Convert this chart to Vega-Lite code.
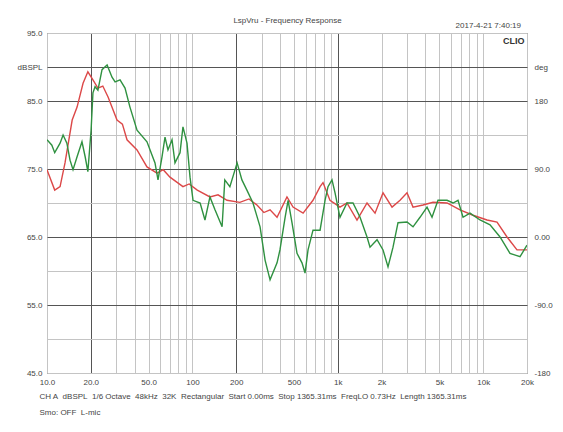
{
  "$schema": "https://vega.github.io/schema/vega-lite/v6.json",
  "width": 480,
  "height": 340,
  "autosize": {"type": "none"},
  "padding": {"left": 47, "top": 33, "right": 36, "bottom": 59},
  "background": "#ffffff",
  "config": {
    "view": {"stroke": "#555555", "strokeWidth": 1},
    "font": "Liberation Sans",
    "axis": {"labelFont": "Liberation Sans", "labelFontSize": 8, "labelColor": "#444444", "titleFont": "Liberation Sans", "titleFontSize": 8, "titleFontWeight": "normal", "titleColor": "#444444"}
  },
  "title": {"text": "2017-4-21 7:40:19", "anchor": "end", "frame": "group", "fontSize": 8, "fontWeight": "normal", "color": "#444444", "offset": 0, "dx": -6, "dy": 14},
  "data": {"values": [
    {"curve": "A", "f": 10, "db": 74.9}, {"curve": "A", "f": 11.3, "db": 71.9}, {"curve": "A", "f": 12.3, "db": 72.4}, {"curve": "A", "f": 13.3, "db": 75.9}, {"curve": "A", "f": 14.9, "db": 82.2}, {"curve": "A", "f": 16.1, "db": 84.1}, {"curve": "A", "f": 17.7, "db": 87.6}, {"curve": "A", "f": 19.1, "db": 89.3}, {"curve": "A", "f": 20.7, "db": 88.1}, {"curve": "A", "f": 22.4, "db": 86.9}, {"curve": "A", "f": 24.2, "db": 87.2}, {"curve": "A", "f": 26.3, "db": 85.6}, {"curve": "A", "f": 30.3, "db": 82.2}, {"curve": "A", "f": 33.0, "db": 81.6}, {"curve": "A", "f": 35.5, "db": 79.3}, {"curve": "A", "f": 41.6, "db": 77.8}, {"curve": "A", "f": 48.7, "db": 75.3}, {"curve": "A", "f": 57.1, "db": 74.4}, {"curve": "A", "f": 63.0, "db": 74.9}, {"curve": "A", "f": 70.1, "db": 73.8}, {"curve": "A", "f": 86.1, "db": 72.4}, {"curve": "A", "f": 95, "db": 72.8}, {"curve": "A", "f": 108, "db": 71.9}, {"curve": "A", "f": 132, "db": 70.9}, {"curve": "A", "f": 150, "db": 71.2}, {"curve": "A", "f": 173, "db": 70.4}, {"curve": "A", "f": 212, "db": 70.1}, {"curve": "A", "f": 245, "db": 70.6}, {"curve": "A", "f": 278, "db": 69.7}, {"curve": "A", "f": 310, "db": 68.6}, {"curve": "A", "f": 342, "db": 69.0}, {"curve": "A", "f": 382, "db": 67.9}, {"curve": "A", "f": 447, "db": 70.9}, {"curve": "A", "f": 492, "db": 69.4}, {"curve": "A", "f": 577, "db": 68.5}, {"curve": "A", "f": 675, "db": 70.4}, {"curve": "A", "f": 755, "db": 72.4}, {"curve": "A", "f": 791, "db": 73.0}, {"curve": "A", "f": 883, "db": 70.4}, {"curve": "A", "f": 1035, "db": 69.4}, {"curve": "A", "f": 1156, "db": 70.0}, {"curve": "A", "f": 1355, "db": 67.5}, {"curve": "A", "f": 1588, "db": 70.0}, {"curve": "A", "f": 1803, "db": 68.5}, {"curve": "A", "f": 2046, "db": 71.5}, {"curve": "A", "f": 2360, "db": 69.4}, {"curve": "A", "f": 2679, "db": 70.4}, {"curve": "A", "f": 2992, "db": 71.5}, {"curve": "A", "f": 3290, "db": 69.4}, {"curve": "A", "f": 3854, "db": 69.7}, {"curve": "A", "f": 4515, "db": 70.1}, {"curve": "A", "f": 5637, "db": 70.0}, {"curve": "A", "f": 6925, "db": 69.0}, {"curve": "A", "f": 8505, "db": 68.2}, {"curve": "A", "f": 10620, "db": 67.5}, {"curve": "A", "f": 12440, "db": 67.2}, {"curve": "A", "f": 14580, "db": 65.0}, {"curve": "A", "f": 17070, "db": 63.1}, {"curve": "A", "f": 20000, "db": 63.1},
    {"curve": "B", "f": 10, "db": 79.3}, {"curve": "B", "f": 10.8, "db": 78.5}, {"curve": "B", "f": 11.3, "db": 77.4}, {"curve": "B", "f": 12.3, "db": 78.8}, {"curve": "B", "f": 12.9, "db": 80.0}, {"curve": "B", "f": 13.7, "db": 78.8}, {"curve": "B", "f": 14.4, "db": 76.3}, {"curve": "B", "f": 15.1, "db": 74.9}, {"curve": "B", "f": 16.1, "db": 76.8}, {"curve": "B", "f": 17.4, "db": 79.0}, {"curve": "B", "f": 18.3, "db": 76.8}, {"curve": "B", "f": 19.1, "db": 74.6}, {"curve": "B", "f": 20.1, "db": 80.7}, {"curve": "B", "f": 20.7, "db": 86.2}, {"curve": "B", "f": 21.4, "db": 87.1}, {"curve": "B", "f": 22.4, "db": 86.6}, {"curve": "B", "f": 23.9, "db": 89.6}, {"curve": "B", "f": 25.9, "db": 90.3}, {"curve": "B", "f": 28.0, "db": 88.5}, {"curve": "B", "f": 29.4, "db": 87.8}, {"curve": "B", "f": 31.8, "db": 88.1}, {"curve": "B", "f": 34.4, "db": 86.9}, {"curve": "B", "f": 37.2, "db": 84.1}, {"curve": "B", "f": 41.6, "db": 80.7}, {"curve": "B", "f": 48.7, "db": 79.0}, {"curve": "B", "f": 55.3, "db": 75.9}, {"curve": "B", "f": 58.0, "db": 73.4}, {"curve": "B", "f": 61.8, "db": 76.8}, {"curve": "B", "f": 64.8, "db": 79.7}, {"curve": "B", "f": 67.9, "db": 77.8}, {"curve": "B", "f": 72.4, "db": 79.3}, {"curve": "B", "f": 75.9, "db": 75.9}, {"curve": "B", "f": 82.2, "db": 77.4}, {"curve": "B", "f": 86.1, "db": 81.2}, {"curve": "B", "f": 91.8, "db": 78.8}, {"curve": "B", "f": 96.3, "db": 73.8}, {"curve": "B", "f": 101, "db": 70.4}, {"curve": "B", "f": 113, "db": 70.0}, {"curve": "B", "f": 122, "db": 67.5}, {"curve": "B", "f": 132, "db": 70.9}, {"curve": "B", "f": 143, "db": 69.0}, {"curve": "B", "f": 160, "db": 66.5}, {"curve": "B", "f": 167, "db": 73.4}, {"curve": "B", "f": 181, "db": 72.4}, {"curve": "B", "f": 203, "db": 75.9}, {"curve": "B", "f": 219, "db": 73.4}, {"curve": "B", "f": 237, "db": 71.9}, {"curve": "B", "f": 261, "db": 70.0}, {"curve": "B", "f": 292, "db": 66.5}, {"curve": "B", "f": 316, "db": 61.6}, {"curve": "B", "f": 342, "db": 58.7}, {"curve": "B", "f": 382, "db": 61.2}, {"curve": "B", "f": 400, "db": 63.1}, {"curve": "B", "f": 434, "db": 67.9}, {"curve": "B", "f": 455, "db": 70.4}, {"curve": "B", "f": 484, "db": 67.1}, {"curve": "B", "f": 524, "db": 62.6}, {"curve": "B", "f": 567, "db": 61.2}, {"curve": "B", "f": 595, "db": 59.7}, {"curve": "B", "f": 624, "db": 63.1}, {"curve": "B", "f": 675, "db": 66.0}, {"curve": "B", "f": 755, "db": 66.0}, {"curve": "B", "f": 817, "db": 70.4}, {"curve": "B", "f": 856, "db": 72.4}, {"curve": "B", "f": 912, "db": 73.4}, {"curve": "B", "f": 957, "db": 71.5}, {"curve": "B", "f": 1035, "db": 67.9}, {"curve": "B", "f": 1156, "db": 70.0}, {"curve": "B", "f": 1272, "db": 70.0}, {"curve": "B", "f": 1422, "db": 67.9}, {"curve": "B", "f": 1588, "db": 65.0}, {"curve": "B", "f": 1665, "db": 63.5}, {"curve": "B", "f": 1861, "db": 64.6}, {"curve": "B", "f": 2046, "db": 63.1}, {"curve": "B", "f": 2214, "db": 60.6}, {"curve": "B", "f": 2397, "db": 63.5}, {"curve": "B", "f": 2594, "db": 67.1}, {"curve": "B", "f": 2992, "db": 67.2}, {"curve": "B", "f": 3290, "db": 66.5}, {"curve": "B", "f": 3675, "db": 67.9}, {"curve": "B", "f": 4107, "db": 69.4}, {"curve": "B", "f": 4445, "db": 67.9}, {"curve": "B", "f": 4887, "db": 70.4}, {"curve": "B", "f": 5637, "db": 70.4}, {"curve": "B", "f": 6198, "db": 70.0}, {"curve": "B", "f": 6709, "db": 70.4}, {"curve": "B", "f": 7261, "db": 67.9}, {"curve": "B", "f": 8111, "db": 68.5}, {"curve": "B", "f": 9506, "db": 67.5}, {"curve": "B", "f": 11140, "db": 66.8}, {"curve": "B", "f": 13050, "db": 65.0}, {"curve": "B", "f": 15280, "db": 62.6}, {"curve": "B", "f": 17910, "db": 62.1}, {"curve": "B", "f": 20000, "db": 63.8}
  ]},
  "layer": [
    {
      "transform": [{"filter": "datum.curve == 'A'"}],
      "mark": {"type": "line", "color": "#dc4848", "strokeWidth": 1.4, "clip": true},
      "encoding": {
        "x": {"field": "f", "type": "quantitative",
          "scale": {"type": "log", "domain": [10, 20000], "nice": false},
          "axis": {"orient": "bottom",
            "values": [10,20,30,40,50,60,70,80,90,100,200,300,400,500,600,700,800,900,1000,2000,3000,4000,5000,6000,7000,8000,9000,10000,20000],
            "labelExpr": "datum.value==10?'10.0':datum.value==20?'20.0':datum.value==50?'50.0':datum.value==100?'100':datum.value==200?'200':datum.value==500?'500':datum.value==1000?'1k':datum.value==2000?'2k':datum.value==5000?'5k':datum.value==10000?'10k':datum.value==20000?'20k':''",
            "labelFlush": false, "labelOverlap": false,
            "grid": true,
            "gridColor": {"condition": {"test": "indexof([20,200,1000], datum.value) >= 0", "value": "#555555"}, "value": "#c4c4c4"},
            "ticks": false, "domain": false, "labelPadding": 5,
            "title": ["CH A\u00a0\u00a0dBSPL\u00a0\u00a01/6 Octave\u00a0\u00a048kHz\u00a0\u00a032K\u00a0\u00a0Rectangular\u00a0\u00a0Start 0.00ms\u00a0\u00a0Stop 1365.31ms\u00a0\u00a0FreqLO 0.73Hz\u00a0\u00a0Length 1365.31ms", "\u00a0\u00a0Smo: OFF\u00a0\u00a0L-mic"],
            "titleAnchor": "start", "titleAlign": "left", "titleBaseline": "top", "titleX": -8, "titleY": 19, "titleLineHeight": 16}},
        "y": {"field": "db", "type": "quantitative",
          "scale": {"domain": [45, 95], "nice": false, "zero": false},
          "axis": {"orient": "left",
            "values": [45,50,55,60,65,70,75,80,85,90,95],
            "labelExpr": "datum.value==90?'dBSPL':(datum.value%10==5?format(datum.value,'.1f'):'')",
            "grid": true,
            "gridColor": {"condition": {"test": "indexof([55,65,75,85,90], datum.value) >= 0", "value": "#555555"}, "value": "#c4c4c4"},
            "ticks": false, "domain": false, "labelPadding": 5, "title": null}}
      }
    },
    {
      "transform": [{"filter": "datum.curve == 'B'"}],
      "mark": {"type": "line", "color": "#2f9140", "strokeWidth": 1.4, "clip": true},
      "encoding": {
        "x": {"field": "f", "type": "quantitative",
          "scale": {"type": "log", "domain": [10, 20000], "nice": false},
          "axis": {"orient": "top", "labels": false, "ticks": false, "domain": false, "grid": false,
            "title": "LspVru - Frequency Response", "titlePadding": 9, "titleFontSize": 8}},
        "y": {"field": "db", "type": "quantitative",
          "scale": {"domain": [45, 95], "nice": false, "zero": false},
          "axis": {"orient": "right",
            "values": [45,55,65,75,85,90],
            "labelExpr": "datum.value==90?'deg':datum.value==85?'180':datum.value==75?'90.0':datum.value==65?'0.00':datum.value==55?'-90.0':datum.value==45?'-180':''",
            "grid": false, "ticks": false, "domain": false, "labelPadding": 7,
            "title": "CLIO", "titleAngle": 0, "titleX": -3, "titleY": 7, "titleAlign": "right", "titleBaseline": "middle", "titleFontWeight": "bold", "titleFontSize": 9, "titleColor": "#333333"}}
      }
    }
  ],
  "resolve": {"scale": {"x": "independent", "y": "independent"}}
}
